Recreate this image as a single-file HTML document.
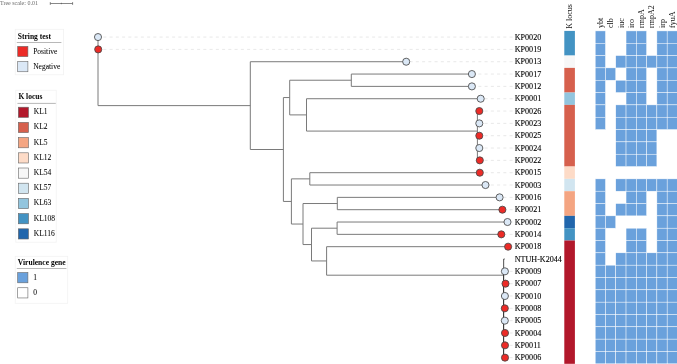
<!DOCTYPE html><html><head><meta charset="utf-8"><style>html,body{margin:0;padding:0;background:#fff;}svg{display:block;will-change:transform;}text{font-family:"Liberation Serif",serif;}</style></head><body><svg width="677" height="364" viewBox="0 0 677 364"><rect width="677" height="364" fill="#fff"/><text x="0" y="4.7" font-size="6" fill="#6a6a6a">Tree scale: 0.01</text><g stroke="#555" stroke-width="0.7" fill="none"><path d="M50.3 3.5H72.6M50.3 2.1V4.9M72.6 2.1V4.9M61.4 2.8V4.2"/></g><rect x="15.2" y="29.3" width="48.4" height="45.5" fill="#fff" stroke="#f2f2f2" stroke-width="0.8"/><text x="17.8" y="39.2" font-size="7.5" font-weight="bold" fill="#000">String test</text><line x1="16.8" y1="42.5" x2="61.400000000000006" y2="42.5" stroke="#999" stroke-width="0.7"/><rect x="17.7" y="46.400000000000006" width="10.2" height="10.2" fill="#ec2b27" stroke="#666" stroke-width="0.6"/><text x="33.2" y="53.90" font-size="7.5" fill="#000" stroke="#000" stroke-width="0.04">Positive</text><rect x="17.7" y="61.550000000000004" width="10.2" height="10.2" fill="#dbe8f6" stroke="#666" stroke-width="0.6"/><text x="33.2" y="69.05" font-size="7.5" fill="#000" stroke="#000" stroke-width="0.04">Negative</text><rect x="15.8" y="90.2" width="40.4" height="152" fill="#fff" stroke="#f2f2f2" stroke-width="0.8"/><text x="18.400000000000002" y="99.2" font-size="7.5" font-weight="bold" fill="#000">K locus</text><line x1="17.400000000000002" y1="103.4" x2="55.8" y2="103.4" stroke="#999" stroke-width="0.7"/><rect x="18.3" y="107.2" width="10.2" height="10.2" fill="#b2182b" stroke="#666" stroke-width="0.6"/><text x="33.8" y="114.20" font-size="7.5" fill="#000" stroke="#000" stroke-width="0.04">KL1</text><rect x="18.3" y="122.4" width="10.2" height="10.2" fill="#d6604d" stroke="#666" stroke-width="0.6"/><text x="33.8" y="129.40" font-size="7.5" fill="#000" stroke="#000" stroke-width="0.04">KL2</text><rect x="18.3" y="137.6" width="10.2" height="10.2" fill="#f4a582" stroke="#666" stroke-width="0.6"/><text x="33.8" y="144.60" font-size="7.5" fill="#000" stroke="#000" stroke-width="0.04">KL5</text><rect x="18.3" y="152.8" width="10.2" height="10.2" fill="#fddbc7" stroke="#666" stroke-width="0.6"/><text x="33.8" y="159.80" font-size="7.5" fill="#000" stroke="#000" stroke-width="0.04">KL12</text><rect x="18.3" y="168.0" width="10.2" height="10.2" fill="#f7f7f7" stroke="#666" stroke-width="0.6"/><text x="33.8" y="175.00" font-size="7.5" fill="#000" stroke="#000" stroke-width="0.04">KL54</text><rect x="18.3" y="183.2" width="10.2" height="10.2" fill="#d1e5f0" stroke="#666" stroke-width="0.6"/><text x="33.8" y="190.20" font-size="7.5" fill="#000" stroke="#000" stroke-width="0.04">KL57</text><rect x="18.3" y="198.39999999999998" width="10.2" height="10.2" fill="#92c5de" stroke="#666" stroke-width="0.6"/><text x="33.8" y="205.40" font-size="7.5" fill="#000" stroke="#000" stroke-width="0.04">KL63</text><rect x="18.3" y="213.6" width="10.2" height="10.2" fill="#4393c3" stroke="#666" stroke-width="0.6"/><text x="33.8" y="220.60" font-size="7.5" fill="#000" stroke="#000" stroke-width="0.04">KL108</text><rect x="18.3" y="228.8" width="10.2" height="10.2" fill="#2166ac" stroke="#666" stroke-width="0.6"/><text x="33.8" y="235.80" font-size="7.5" fill="#000" stroke="#000" stroke-width="0.04">KL116</text><rect x="15.2" y="256.3" width="52.5" height="47" fill="#fff" stroke="#f2f2f2" stroke-width="0.8"/><text x="17.8" y="264.90000000000003" font-size="7.5" font-weight="bold" fill="#000" textLength="47.8" lengthAdjust="spacingAndGlyphs">Virulence gene</text><line x1="16.8" y1="268.5" x2="66.4" y2="268.5" stroke="#999" stroke-width="0.7"/><rect x="17.7" y="272.6" width="10.2" height="10.2" fill="#6aa1dc" stroke="#666" stroke-width="0.6"/><text x="33.2" y="280.00" font-size="7.5" fill="#000" stroke="#000" stroke-width="0.04">1</text><rect x="17.7" y="287.75" width="10.2" height="10.2" fill="#fff" stroke="#666" stroke-width="0.6"/><text x="33.2" y="295.15" font-size="7.5" fill="#000" stroke="#000" stroke-width="0.04">0</text><path d="M98 37.07V105.62M98 105.62H250.3M250.3 61.73V149.51M250.3 61.73H406.2M250.3 149.51H283.4M283.4 97.56V201.45M283.4 97.56H289.7M283.4 201.45H291.4M289.7 80.22V114.90M289.7 80.22H351.3M289.7 114.90H306.5M351.3 74.06V86.39M351.3 74.06H471.9M351.3 86.39H471.9M306.5 98.72V131.09M306.5 98.72H480.7M306.5 131.09H477.4M477.4 111.05V160.37M477.4 111.05H479.3M477.4 123.38H479.3M477.4 135.71H479.3M477.4 148.04H479.3M477.4 160.37H479.3M291.4 178.87V224.04M291.4 178.87H309.8M291.4 224.04H303M309.8 172.70V185.03M309.8 172.70H479.8M309.8 185.03H485.5M303 203.52V244.56M303 203.52H337.3M303 244.56H311.5M337.3 197.36V209.69M337.3 197.36H499.6M337.3 209.69H502.4M311.5 228.19V260.94M311.5 228.19H337.1M311.5 260.94H326.6M337.1 222.02V234.35M337.1 222.02H507.5M337.1 234.35H501.3M326.6 246.68V275.20M326.6 246.68H508.1M326.6 275.20H503.6M503.6 259.01V357.65M503.6 259.01H505.0" stroke="#7a7a7a" stroke-width="1" fill="none"/><path d="M503.6 259.01V271.34" stroke="#666" stroke-width="1" fill="none"/><path d="M503.6 271.34V357.65" stroke="#333" stroke-width="1" fill="none"/><path d="M512.6 37.07H102.2M512.6 49.40H102.4M512.6 61.73H410.4M512.6 74.06H476.1M512.6 86.39H476.1M512.6 98.72H484.9M512.6 111.05H483.5M512.6 123.38H483.5M512.6 135.71H483.5M512.6 148.04H483.5M512.6 160.37H484.0M512.6 172.70H484.0M512.6 185.03H489.7M512.6 197.36H503.8M512.6 209.69H506.6M512.6 222.02H511.7M512.6 234.35H505.5M512.6 246.68H512.3M512.6 271.34H509.1M512.6 283.67H509.7M512.6 296.00H509.1M512.6 308.33H509.0M512.6 320.66H509.0M512.6 332.99H509.2M512.6 345.32H509.2M512.6 357.65H509.2" stroke="#d8d8d8" stroke-width="0.6" stroke-dasharray="3 3.25" fill="none"/><circle cx="98" cy="37.07" r="3.55" fill="#dbe8f6" stroke="#474747" stroke-width="0.85"/><circle cx="98.2" cy="49.40" r="3.55" fill="#ec2b27" stroke="#474747" stroke-width="0.85"/><circle cx="406.2" cy="61.73" r="3.55" fill="#dbe8f6" stroke="#474747" stroke-width="0.85"/><circle cx="471.9" cy="74.06" r="3.55" fill="#dbe8f6" stroke="#474747" stroke-width="0.85"/><circle cx="471.9" cy="86.39" r="3.55" fill="#dbe8f6" stroke="#474747" stroke-width="0.85"/><circle cx="480.7" cy="98.72" r="3.55" fill="#dbe8f6" stroke="#474747" stroke-width="0.85"/><circle cx="479.3" cy="111.05" r="3.55" fill="#ec2b27" stroke="#474747" stroke-width="0.85"/><circle cx="479.3" cy="123.38" r="3.55" fill="#dbe8f6" stroke="#474747" stroke-width="0.85"/><circle cx="479.3" cy="135.71" r="3.55" fill="#ec2b27" stroke="#474747" stroke-width="0.85"/><circle cx="479.3" cy="148.04" r="3.55" fill="#dbe8f6" stroke="#474747" stroke-width="0.85"/><circle cx="479.8" cy="160.37" r="3.55" fill="#ec2b27" stroke="#474747" stroke-width="0.85"/><circle cx="479.8" cy="172.70" r="3.55" fill="#ec2b27" stroke="#474747" stroke-width="0.85"/><circle cx="485.5" cy="185.03" r="3.55" fill="#dbe8f6" stroke="#474747" stroke-width="0.85"/><circle cx="499.6" cy="197.36" r="3.55" fill="#dbe8f6" stroke="#474747" stroke-width="0.85"/><circle cx="502.4" cy="209.69" r="3.55" fill="#ec2b27" stroke="#474747" stroke-width="0.85"/><circle cx="507.5" cy="222.02" r="3.55" fill="#dbe8f6" stroke="#474747" stroke-width="0.85"/><circle cx="501.3" cy="234.35" r="3.55" fill="#ec2b27" stroke="#474747" stroke-width="0.85"/><circle cx="508.1" cy="246.68" r="3.55" fill="#ec2b27" stroke="#474747" stroke-width="0.85"/><circle cx="504.9" cy="271.34" r="3.55" fill="#dbe8f6" stroke="#474747" stroke-width="0.85"/><circle cx="505.5" cy="283.67" r="3.55" fill="#ec2b27" stroke="#474747" stroke-width="0.85"/><circle cx="504.9" cy="296.00" r="3.55" fill="#dbe8f6" stroke="#474747" stroke-width="0.85"/><circle cx="504.8" cy="308.33" r="3.55" fill="#ec2b27" stroke="#474747" stroke-width="0.85"/><circle cx="504.8" cy="320.66" r="3.55" fill="#dbe8f6" stroke="#474747" stroke-width="0.85"/><circle cx="505" cy="332.99" r="3.55" fill="#ec2b27" stroke="#474747" stroke-width="0.85"/><circle cx="505" cy="345.32" r="3.55" fill="#ec2b27" stroke="#474747" stroke-width="0.85"/><circle cx="505" cy="357.65" r="3.55" fill="#ec2b27" stroke="#474747" stroke-width="0.85"/><text x="514.7" y="39.82" font-size="8.1" fill="#000" stroke="#000" stroke-width="0.1">KP0020</text><text x="514.7" y="52.15" font-size="8.1" fill="#000" stroke="#000" stroke-width="0.1">KP0019</text><text x="514.7" y="64.48" font-size="8.1" fill="#000" stroke="#000" stroke-width="0.1">KP0013</text><text x="514.7" y="76.81" font-size="8.1" fill="#000" stroke="#000" stroke-width="0.1">KP0017</text><text x="514.7" y="89.14" font-size="8.1" fill="#000" stroke="#000" stroke-width="0.1">KP0012</text><text x="514.7" y="101.47" font-size="8.1" fill="#000" stroke="#000" stroke-width="0.1">KP0001</text><text x="514.7" y="113.80" font-size="8.1" fill="#000" stroke="#000" stroke-width="0.1">KP0026</text><text x="514.7" y="126.13" font-size="8.1" fill="#000" stroke="#000" stroke-width="0.1">KP0023</text><text x="514.7" y="138.46" font-size="8.1" fill="#000" stroke="#000" stroke-width="0.1">KP0025</text><text x="514.7" y="150.79" font-size="8.1" fill="#000" stroke="#000" stroke-width="0.1">KP0024</text><text x="514.7" y="163.12" font-size="8.1" fill="#000" stroke="#000" stroke-width="0.1">KP0022</text><text x="514.7" y="175.45" font-size="8.1" fill="#000" stroke="#000" stroke-width="0.1">KP0015</text><text x="514.7" y="187.78" font-size="8.1" fill="#000" stroke="#000" stroke-width="0.1">KP0003</text><text x="514.7" y="200.11" font-size="8.1" fill="#000" stroke="#000" stroke-width="0.1">KP0016</text><text x="514.7" y="212.44" font-size="8.1" fill="#000" stroke="#000" stroke-width="0.1">KP0021</text><text x="514.7" y="224.77" font-size="8.1" fill="#000" stroke="#000" stroke-width="0.1">KP0002</text><text x="514.7" y="237.10" font-size="8.1" fill="#000" stroke="#000" stroke-width="0.1">KP0014</text><text x="514.7" y="249.43" font-size="8.1" fill="#000" stroke="#000" stroke-width="0.1">KP0018</text><text x="514.7" y="261.76" font-size="8.1" fill="#000" stroke="#000" stroke-width="0.1">NTUH-K2044</text><text x="514.7" y="274.09" font-size="8.1" fill="#000" stroke="#000" stroke-width="0.1">KP0009</text><text x="514.7" y="286.42" font-size="8.1" fill="#000" stroke="#000" stroke-width="0.1">KP0007</text><text x="514.7" y="298.75" font-size="8.1" fill="#000" stroke="#000" stroke-width="0.1">KP0010</text><text x="514.7" y="311.08" font-size="8.1" fill="#000" stroke="#000" stroke-width="0.1">KP0008</text><text x="514.7" y="323.41" font-size="8.1" fill="#000" stroke="#000" stroke-width="0.1">KP0005</text><text x="514.7" y="335.74" font-size="8.1" fill="#000" stroke="#000" stroke-width="0.1">KP0004</text><text x="514.7" y="348.07" font-size="8.1" fill="#000" stroke="#000" stroke-width="0.1">KP0011</text><text x="514.7" y="360.40" font-size="8.1" fill="#000" stroke="#000" stroke-width="0.1">KP0006</text><rect x="564.3" y="30.91" width="10.6" height="24.66" fill="#4393c3"/><rect x="564.3" y="55.57" width="10.6" height="12.33" fill="#f7f7f7"/><rect x="564.3" y="67.89" width="10.6" height="24.66" fill="#d6604d"/><rect x="564.3" y="92.55" width="10.6" height="12.33" fill="#92c5de"/><rect x="564.3" y="104.89" width="10.6" height="61.65" fill="#d6604d"/><rect x="564.3" y="166.53" width="10.6" height="12.33" fill="#fddbc7"/><rect x="564.3" y="178.87" width="10.6" height="12.33" fill="#d1e5f0"/><rect x="564.3" y="191.19" width="10.6" height="24.66" fill="#f4a582"/><rect x="564.3" y="215.85" width="10.6" height="12.33" fill="#2166ac"/><rect x="564.3" y="228.19" width="10.6" height="12.33" fill="#4393c3"/><rect x="564.3" y="240.52" width="10.6" height="123.30" fill="#b2182b"/><text transform="translate(571.9 28.8) rotate(-90)" font-size="8" fill="#111">K locus</text><rect x="595.20" y="30.91" width="10.28" height="12.33" fill="#6aa1dc" stroke="#fff" stroke-width="0.45"/><rect x="626.04" y="30.91" width="10.28" height="12.33" fill="#6aa1dc" stroke="#fff" stroke-width="0.45"/><rect x="636.32" y="30.91" width="10.28" height="12.33" fill="#6aa1dc" stroke="#fff" stroke-width="0.45"/><rect x="656.88" y="30.91" width="10.28" height="12.33" fill="#6aa1dc" stroke="#fff" stroke-width="0.45"/><rect x="667.16" y="30.91" width="10.28" height="12.33" fill="#6aa1dc" stroke="#fff" stroke-width="0.45"/><rect x="595.20" y="43.23" width="10.28" height="12.33" fill="#6aa1dc" stroke="#fff" stroke-width="0.45"/><rect x="626.04" y="43.23" width="10.28" height="12.33" fill="#6aa1dc" stroke="#fff" stroke-width="0.45"/><rect x="636.32" y="43.23" width="10.28" height="12.33" fill="#6aa1dc" stroke="#fff" stroke-width="0.45"/><rect x="656.88" y="43.23" width="10.28" height="12.33" fill="#6aa1dc" stroke="#fff" stroke-width="0.45"/><rect x="667.16" y="43.23" width="10.28" height="12.33" fill="#6aa1dc" stroke="#fff" stroke-width="0.45"/><rect x="595.20" y="55.57" width="10.28" height="12.33" fill="#6aa1dc" stroke="#fff" stroke-width="0.45"/><rect x="615.76" y="55.57" width="10.28" height="12.33" fill="#6aa1dc" stroke="#fff" stroke-width="0.45"/><rect x="626.04" y="55.57" width="10.28" height="12.33" fill="#6aa1dc" stroke="#fff" stroke-width="0.45"/><rect x="636.32" y="55.57" width="10.28" height="12.33" fill="#6aa1dc" stroke="#fff" stroke-width="0.45"/><rect x="646.60" y="55.57" width="10.28" height="12.33" fill="#6aa1dc" stroke="#fff" stroke-width="0.45"/><rect x="656.88" y="55.57" width="10.28" height="12.33" fill="#6aa1dc" stroke="#fff" stroke-width="0.45"/><rect x="667.16" y="55.57" width="10.28" height="12.33" fill="#6aa1dc" stroke="#fff" stroke-width="0.45"/><rect x="595.20" y="67.89" width="10.28" height="12.33" fill="#6aa1dc" stroke="#fff" stroke-width="0.45"/><rect x="605.48" y="67.89" width="10.28" height="12.33" fill="#6aa1dc" stroke="#fff" stroke-width="0.45"/><rect x="626.04" y="67.89" width="10.28" height="12.33" fill="#6aa1dc" stroke="#fff" stroke-width="0.45"/><rect x="636.32" y="67.89" width="10.28" height="12.33" fill="#6aa1dc" stroke="#fff" stroke-width="0.45"/><rect x="656.88" y="67.89" width="10.28" height="12.33" fill="#6aa1dc" stroke="#fff" stroke-width="0.45"/><rect x="667.16" y="67.89" width="10.28" height="12.33" fill="#6aa1dc" stroke="#fff" stroke-width="0.45"/><rect x="595.20" y="80.22" width="10.28" height="12.33" fill="#6aa1dc" stroke="#fff" stroke-width="0.45"/><rect x="615.76" y="80.22" width="10.28" height="12.33" fill="#6aa1dc" stroke="#fff" stroke-width="0.45"/><rect x="626.04" y="80.22" width="10.28" height="12.33" fill="#6aa1dc" stroke="#fff" stroke-width="0.45"/><rect x="636.32" y="80.22" width="10.28" height="12.33" fill="#6aa1dc" stroke="#fff" stroke-width="0.45"/><rect x="656.88" y="80.22" width="10.28" height="12.33" fill="#6aa1dc" stroke="#fff" stroke-width="0.45"/><rect x="667.16" y="80.22" width="10.28" height="12.33" fill="#6aa1dc" stroke="#fff" stroke-width="0.45"/><rect x="595.20" y="92.55" width="10.28" height="12.33" fill="#6aa1dc" stroke="#fff" stroke-width="0.45"/><rect x="626.04" y="92.55" width="10.28" height="12.33" fill="#6aa1dc" stroke="#fff" stroke-width="0.45"/><rect x="636.32" y="92.55" width="10.28" height="12.33" fill="#6aa1dc" stroke="#fff" stroke-width="0.45"/><rect x="656.88" y="92.55" width="10.28" height="12.33" fill="#6aa1dc" stroke="#fff" stroke-width="0.45"/><rect x="667.16" y="92.55" width="10.28" height="12.33" fill="#6aa1dc" stroke="#fff" stroke-width="0.45"/><rect x="595.20" y="104.89" width="10.28" height="12.33" fill="#6aa1dc" stroke="#fff" stroke-width="0.45"/><rect x="615.76" y="104.89" width="10.28" height="12.33" fill="#6aa1dc" stroke="#fff" stroke-width="0.45"/><rect x="626.04" y="104.89" width="10.28" height="12.33" fill="#6aa1dc" stroke="#fff" stroke-width="0.45"/><rect x="636.32" y="104.89" width="10.28" height="12.33" fill="#6aa1dc" stroke="#fff" stroke-width="0.45"/><rect x="646.60" y="104.89" width="10.28" height="12.33" fill="#6aa1dc" stroke="#fff" stroke-width="0.45"/><rect x="656.88" y="104.89" width="10.28" height="12.33" fill="#6aa1dc" stroke="#fff" stroke-width="0.45"/><rect x="667.16" y="104.89" width="10.28" height="12.33" fill="#6aa1dc" stroke="#fff" stroke-width="0.45"/><rect x="595.20" y="117.21" width="10.28" height="12.33" fill="#6aa1dc" stroke="#fff" stroke-width="0.45"/><rect x="615.76" y="117.21" width="10.28" height="12.33" fill="#6aa1dc" stroke="#fff" stroke-width="0.45"/><rect x="626.04" y="117.21" width="10.28" height="12.33" fill="#6aa1dc" stroke="#fff" stroke-width="0.45"/><rect x="636.32" y="117.21" width="10.28" height="12.33" fill="#6aa1dc" stroke="#fff" stroke-width="0.45"/><rect x="646.60" y="117.21" width="10.28" height="12.33" fill="#6aa1dc" stroke="#fff" stroke-width="0.45"/><rect x="656.88" y="117.21" width="10.28" height="12.33" fill="#6aa1dc" stroke="#fff" stroke-width="0.45"/><rect x="667.16" y="117.21" width="10.28" height="12.33" fill="#6aa1dc" stroke="#fff" stroke-width="0.45"/><rect x="615.76" y="129.55" width="10.28" height="12.33" fill="#6aa1dc" stroke="#fff" stroke-width="0.45"/><rect x="626.04" y="129.55" width="10.28" height="12.33" fill="#6aa1dc" stroke="#fff" stroke-width="0.45"/><rect x="636.32" y="129.55" width="10.28" height="12.33" fill="#6aa1dc" stroke="#fff" stroke-width="0.45"/><rect x="646.60" y="129.55" width="10.28" height="12.33" fill="#6aa1dc" stroke="#fff" stroke-width="0.45"/><rect x="615.76" y="141.88" width="10.28" height="12.33" fill="#6aa1dc" stroke="#fff" stroke-width="0.45"/><rect x="626.04" y="141.88" width="10.28" height="12.33" fill="#6aa1dc" stroke="#fff" stroke-width="0.45"/><rect x="636.32" y="141.88" width="10.28" height="12.33" fill="#6aa1dc" stroke="#fff" stroke-width="0.45"/><rect x="646.60" y="141.88" width="10.28" height="12.33" fill="#6aa1dc" stroke="#fff" stroke-width="0.45"/><rect x="615.76" y="154.21" width="10.28" height="12.33" fill="#6aa1dc" stroke="#fff" stroke-width="0.45"/><rect x="626.04" y="154.21" width="10.28" height="12.33" fill="#6aa1dc" stroke="#fff" stroke-width="0.45"/><rect x="636.32" y="154.21" width="10.28" height="12.33" fill="#6aa1dc" stroke="#fff" stroke-width="0.45"/><rect x="646.60" y="154.21" width="10.28" height="12.33" fill="#6aa1dc" stroke="#fff" stroke-width="0.45"/><rect x="595.20" y="178.87" width="10.28" height="12.33" fill="#6aa1dc" stroke="#fff" stroke-width="0.45"/><rect x="615.76" y="178.87" width="10.28" height="12.33" fill="#6aa1dc" stroke="#fff" stroke-width="0.45"/><rect x="626.04" y="178.87" width="10.28" height="12.33" fill="#6aa1dc" stroke="#fff" stroke-width="0.45"/><rect x="636.32" y="178.87" width="10.28" height="12.33" fill="#6aa1dc" stroke="#fff" stroke-width="0.45"/><rect x="646.60" y="178.87" width="10.28" height="12.33" fill="#6aa1dc" stroke="#fff" stroke-width="0.45"/><rect x="656.88" y="178.87" width="10.28" height="12.33" fill="#6aa1dc" stroke="#fff" stroke-width="0.45"/><rect x="667.16" y="178.87" width="10.28" height="12.33" fill="#6aa1dc" stroke="#fff" stroke-width="0.45"/><rect x="595.20" y="191.19" width="10.28" height="12.33" fill="#6aa1dc" stroke="#fff" stroke-width="0.45"/><rect x="626.04" y="191.19" width="10.28" height="12.33" fill="#6aa1dc" stroke="#fff" stroke-width="0.45"/><rect x="636.32" y="191.19" width="10.28" height="12.33" fill="#6aa1dc" stroke="#fff" stroke-width="0.45"/><rect x="656.88" y="191.19" width="10.28" height="12.33" fill="#6aa1dc" stroke="#fff" stroke-width="0.45"/><rect x="667.16" y="191.19" width="10.28" height="12.33" fill="#6aa1dc" stroke="#fff" stroke-width="0.45"/><rect x="595.20" y="203.53" width="10.28" height="12.33" fill="#6aa1dc" stroke="#fff" stroke-width="0.45"/><rect x="615.76" y="203.53" width="10.28" height="12.33" fill="#6aa1dc" stroke="#fff" stroke-width="0.45"/><rect x="626.04" y="203.53" width="10.28" height="12.33" fill="#6aa1dc" stroke="#fff" stroke-width="0.45"/><rect x="636.32" y="203.53" width="10.28" height="12.33" fill="#6aa1dc" stroke="#fff" stroke-width="0.45"/><rect x="656.88" y="203.53" width="10.28" height="12.33" fill="#6aa1dc" stroke="#fff" stroke-width="0.45"/><rect x="667.16" y="203.53" width="10.28" height="12.33" fill="#6aa1dc" stroke="#fff" stroke-width="0.45"/><rect x="595.20" y="215.85" width="10.28" height="12.33" fill="#6aa1dc" stroke="#fff" stroke-width="0.45"/><rect x="605.48" y="215.85" width="10.28" height="12.33" fill="#6aa1dc" stroke="#fff" stroke-width="0.45"/><rect x="656.88" y="215.85" width="10.28" height="12.33" fill="#6aa1dc" stroke="#fff" stroke-width="0.45"/><rect x="667.16" y="215.85" width="10.28" height="12.33" fill="#6aa1dc" stroke="#fff" stroke-width="0.45"/><rect x="595.20" y="228.19" width="10.28" height="12.33" fill="#6aa1dc" stroke="#fff" stroke-width="0.45"/><rect x="626.04" y="228.19" width="10.28" height="12.33" fill="#6aa1dc" stroke="#fff" stroke-width="0.45"/><rect x="636.32" y="228.19" width="10.28" height="12.33" fill="#6aa1dc" stroke="#fff" stroke-width="0.45"/><rect x="656.88" y="228.19" width="10.28" height="12.33" fill="#6aa1dc" stroke="#fff" stroke-width="0.45"/><rect x="667.16" y="228.19" width="10.28" height="12.33" fill="#6aa1dc" stroke="#fff" stroke-width="0.45"/><rect x="595.20" y="240.52" width="10.28" height="12.33" fill="#6aa1dc" stroke="#fff" stroke-width="0.45"/><rect x="626.04" y="240.52" width="10.28" height="12.33" fill="#6aa1dc" stroke="#fff" stroke-width="0.45"/><rect x="636.32" y="240.52" width="10.28" height="12.33" fill="#6aa1dc" stroke="#fff" stroke-width="0.45"/><rect x="656.88" y="240.52" width="10.28" height="12.33" fill="#6aa1dc" stroke="#fff" stroke-width="0.45"/><rect x="667.16" y="240.52" width="10.28" height="12.33" fill="#6aa1dc" stroke="#fff" stroke-width="0.45"/><rect x="595.20" y="252.84" width="10.28" height="12.33" fill="#6aa1dc" stroke="#fff" stroke-width="0.45"/><rect x="615.76" y="252.84" width="10.28" height="12.33" fill="#6aa1dc" stroke="#fff" stroke-width="0.45"/><rect x="626.04" y="252.84" width="10.28" height="12.33" fill="#6aa1dc" stroke="#fff" stroke-width="0.45"/><rect x="636.32" y="252.84" width="10.28" height="12.33" fill="#6aa1dc" stroke="#fff" stroke-width="0.45"/><rect x="646.60" y="252.84" width="10.28" height="12.33" fill="#6aa1dc" stroke="#fff" stroke-width="0.45"/><rect x="656.88" y="252.84" width="10.28" height="12.33" fill="#6aa1dc" stroke="#fff" stroke-width="0.45"/><rect x="667.16" y="252.84" width="10.28" height="12.33" fill="#6aa1dc" stroke="#fff" stroke-width="0.45"/><rect x="595.20" y="265.18" width="10.28" height="12.33" fill="#6aa1dc" stroke="#fff" stroke-width="0.45"/><rect x="605.48" y="265.18" width="10.28" height="12.33" fill="#6aa1dc" stroke="#fff" stroke-width="0.45"/><rect x="615.76" y="265.18" width="10.28" height="12.33" fill="#6aa1dc" stroke="#fff" stroke-width="0.45"/><rect x="626.04" y="265.18" width="10.28" height="12.33" fill="#6aa1dc" stroke="#fff" stroke-width="0.45"/><rect x="636.32" y="265.18" width="10.28" height="12.33" fill="#6aa1dc" stroke="#fff" stroke-width="0.45"/><rect x="646.60" y="265.18" width="10.28" height="12.33" fill="#6aa1dc" stroke="#fff" stroke-width="0.45"/><rect x="656.88" y="265.18" width="10.28" height="12.33" fill="#6aa1dc" stroke="#fff" stroke-width="0.45"/><rect x="667.16" y="265.18" width="10.28" height="12.33" fill="#6aa1dc" stroke="#fff" stroke-width="0.45"/><rect x="595.20" y="277.50" width="10.28" height="12.33" fill="#6aa1dc" stroke="#fff" stroke-width="0.45"/><rect x="605.48" y="277.50" width="10.28" height="12.33" fill="#6aa1dc" stroke="#fff" stroke-width="0.45"/><rect x="615.76" y="277.50" width="10.28" height="12.33" fill="#6aa1dc" stroke="#fff" stroke-width="0.45"/><rect x="626.04" y="277.50" width="10.28" height="12.33" fill="#6aa1dc" stroke="#fff" stroke-width="0.45"/><rect x="636.32" y="277.50" width="10.28" height="12.33" fill="#6aa1dc" stroke="#fff" stroke-width="0.45"/><rect x="646.60" y="277.50" width="10.28" height="12.33" fill="#6aa1dc" stroke="#fff" stroke-width="0.45"/><rect x="656.88" y="277.50" width="10.28" height="12.33" fill="#6aa1dc" stroke="#fff" stroke-width="0.45"/><rect x="667.16" y="277.50" width="10.28" height="12.33" fill="#6aa1dc" stroke="#fff" stroke-width="0.45"/><rect x="595.20" y="289.83" width="10.28" height="12.33" fill="#6aa1dc" stroke="#fff" stroke-width="0.45"/><rect x="605.48" y="289.83" width="10.28" height="12.33" fill="#6aa1dc" stroke="#fff" stroke-width="0.45"/><rect x="615.76" y="289.83" width="10.28" height="12.33" fill="#6aa1dc" stroke="#fff" stroke-width="0.45"/><rect x="626.04" y="289.83" width="10.28" height="12.33" fill="#6aa1dc" stroke="#fff" stroke-width="0.45"/><rect x="636.32" y="289.83" width="10.28" height="12.33" fill="#6aa1dc" stroke="#fff" stroke-width="0.45"/><rect x="646.60" y="289.83" width="10.28" height="12.33" fill="#6aa1dc" stroke="#fff" stroke-width="0.45"/><rect x="656.88" y="289.83" width="10.28" height="12.33" fill="#6aa1dc" stroke="#fff" stroke-width="0.45"/><rect x="667.16" y="289.83" width="10.28" height="12.33" fill="#6aa1dc" stroke="#fff" stroke-width="0.45"/><rect x="595.20" y="302.16" width="10.28" height="12.33" fill="#6aa1dc" stroke="#fff" stroke-width="0.45"/><rect x="605.48" y="302.16" width="10.28" height="12.33" fill="#6aa1dc" stroke="#fff" stroke-width="0.45"/><rect x="615.76" y="302.16" width="10.28" height="12.33" fill="#6aa1dc" stroke="#fff" stroke-width="0.45"/><rect x="626.04" y="302.16" width="10.28" height="12.33" fill="#6aa1dc" stroke="#fff" stroke-width="0.45"/><rect x="636.32" y="302.16" width="10.28" height="12.33" fill="#6aa1dc" stroke="#fff" stroke-width="0.45"/><rect x="646.60" y="302.16" width="10.28" height="12.33" fill="#6aa1dc" stroke="#fff" stroke-width="0.45"/><rect x="656.88" y="302.16" width="10.28" height="12.33" fill="#6aa1dc" stroke="#fff" stroke-width="0.45"/><rect x="667.16" y="302.16" width="10.28" height="12.33" fill="#6aa1dc" stroke="#fff" stroke-width="0.45"/><rect x="595.20" y="314.49" width="10.28" height="12.33" fill="#6aa1dc" stroke="#fff" stroke-width="0.45"/><rect x="605.48" y="314.49" width="10.28" height="12.33" fill="#6aa1dc" stroke="#fff" stroke-width="0.45"/><rect x="615.76" y="314.49" width="10.28" height="12.33" fill="#6aa1dc" stroke="#fff" stroke-width="0.45"/><rect x="626.04" y="314.49" width="10.28" height="12.33" fill="#6aa1dc" stroke="#fff" stroke-width="0.45"/><rect x="636.32" y="314.49" width="10.28" height="12.33" fill="#6aa1dc" stroke="#fff" stroke-width="0.45"/><rect x="646.60" y="314.49" width="10.28" height="12.33" fill="#6aa1dc" stroke="#fff" stroke-width="0.45"/><rect x="656.88" y="314.49" width="10.28" height="12.33" fill="#6aa1dc" stroke="#fff" stroke-width="0.45"/><rect x="667.16" y="314.49" width="10.28" height="12.33" fill="#6aa1dc" stroke="#fff" stroke-width="0.45"/><rect x="595.20" y="326.82" width="10.28" height="12.33" fill="#6aa1dc" stroke="#fff" stroke-width="0.45"/><rect x="605.48" y="326.82" width="10.28" height="12.33" fill="#6aa1dc" stroke="#fff" stroke-width="0.45"/><rect x="615.76" y="326.82" width="10.28" height="12.33" fill="#6aa1dc" stroke="#fff" stroke-width="0.45"/><rect x="626.04" y="326.82" width="10.28" height="12.33" fill="#6aa1dc" stroke="#fff" stroke-width="0.45"/><rect x="636.32" y="326.82" width="10.28" height="12.33" fill="#6aa1dc" stroke="#fff" stroke-width="0.45"/><rect x="646.60" y="326.82" width="10.28" height="12.33" fill="#6aa1dc" stroke="#fff" stroke-width="0.45"/><rect x="656.88" y="326.82" width="10.28" height="12.33" fill="#6aa1dc" stroke="#fff" stroke-width="0.45"/><rect x="667.16" y="326.82" width="10.28" height="12.33" fill="#6aa1dc" stroke="#fff" stroke-width="0.45"/><rect x="595.20" y="339.15" width="10.28" height="12.33" fill="#6aa1dc" stroke="#fff" stroke-width="0.45"/><rect x="605.48" y="339.15" width="10.28" height="12.33" fill="#6aa1dc" stroke="#fff" stroke-width="0.45"/><rect x="615.76" y="339.15" width="10.28" height="12.33" fill="#6aa1dc" stroke="#fff" stroke-width="0.45"/><rect x="626.04" y="339.15" width="10.28" height="12.33" fill="#6aa1dc" stroke="#fff" stroke-width="0.45"/><rect x="636.32" y="339.15" width="10.28" height="12.33" fill="#6aa1dc" stroke="#fff" stroke-width="0.45"/><rect x="646.60" y="339.15" width="10.28" height="12.33" fill="#6aa1dc" stroke="#fff" stroke-width="0.45"/><rect x="656.88" y="339.15" width="10.28" height="12.33" fill="#6aa1dc" stroke="#fff" stroke-width="0.45"/><rect x="667.16" y="339.15" width="10.28" height="12.33" fill="#6aa1dc" stroke="#fff" stroke-width="0.45"/><rect x="595.20" y="351.48" width="10.28" height="12.33" fill="#6aa1dc" stroke="#fff" stroke-width="0.45"/><rect x="605.48" y="351.48" width="10.28" height="12.33" fill="#6aa1dc" stroke="#fff" stroke-width="0.45"/><rect x="615.76" y="351.48" width="10.28" height="12.33" fill="#6aa1dc" stroke="#fff" stroke-width="0.45"/><rect x="626.04" y="351.48" width="10.28" height="12.33" fill="#6aa1dc" stroke="#fff" stroke-width="0.45"/><rect x="636.32" y="351.48" width="10.28" height="12.33" fill="#6aa1dc" stroke="#fff" stroke-width="0.45"/><rect x="646.60" y="351.48" width="10.28" height="12.33" fill="#6aa1dc" stroke="#fff" stroke-width="0.45"/><rect x="656.88" y="351.48" width="10.28" height="12.33" fill="#6aa1dc" stroke="#fff" stroke-width="0.45"/><rect x="667.16" y="351.48" width="10.28" height="12.33" fill="#6aa1dc" stroke="#fff" stroke-width="0.45"/><text transform="translate(602.94 28.0) rotate(-90)" font-size="8" fill="#111">ybt</text><text transform="translate(613.22 28.0) rotate(-90)" font-size="8" fill="#111">clb</text><text transform="translate(623.50 28.0) rotate(-90)" font-size="8" fill="#111">iuc</text><text transform="translate(633.78 28.0) rotate(-90)" font-size="8" fill="#111">iro</text><text transform="translate(644.06 28.0) rotate(-90)" font-size="8" fill="#111">rmpA</text><text transform="translate(654.34 28.0) rotate(-90)" font-size="8" fill="#111">rmpA2</text><text transform="translate(664.62 28.0) rotate(-90)" font-size="8" fill="#111">irp</text><text transform="translate(674.90 28.0) rotate(-90)" font-size="8" fill="#111">fyuA</text></svg></body></html>
